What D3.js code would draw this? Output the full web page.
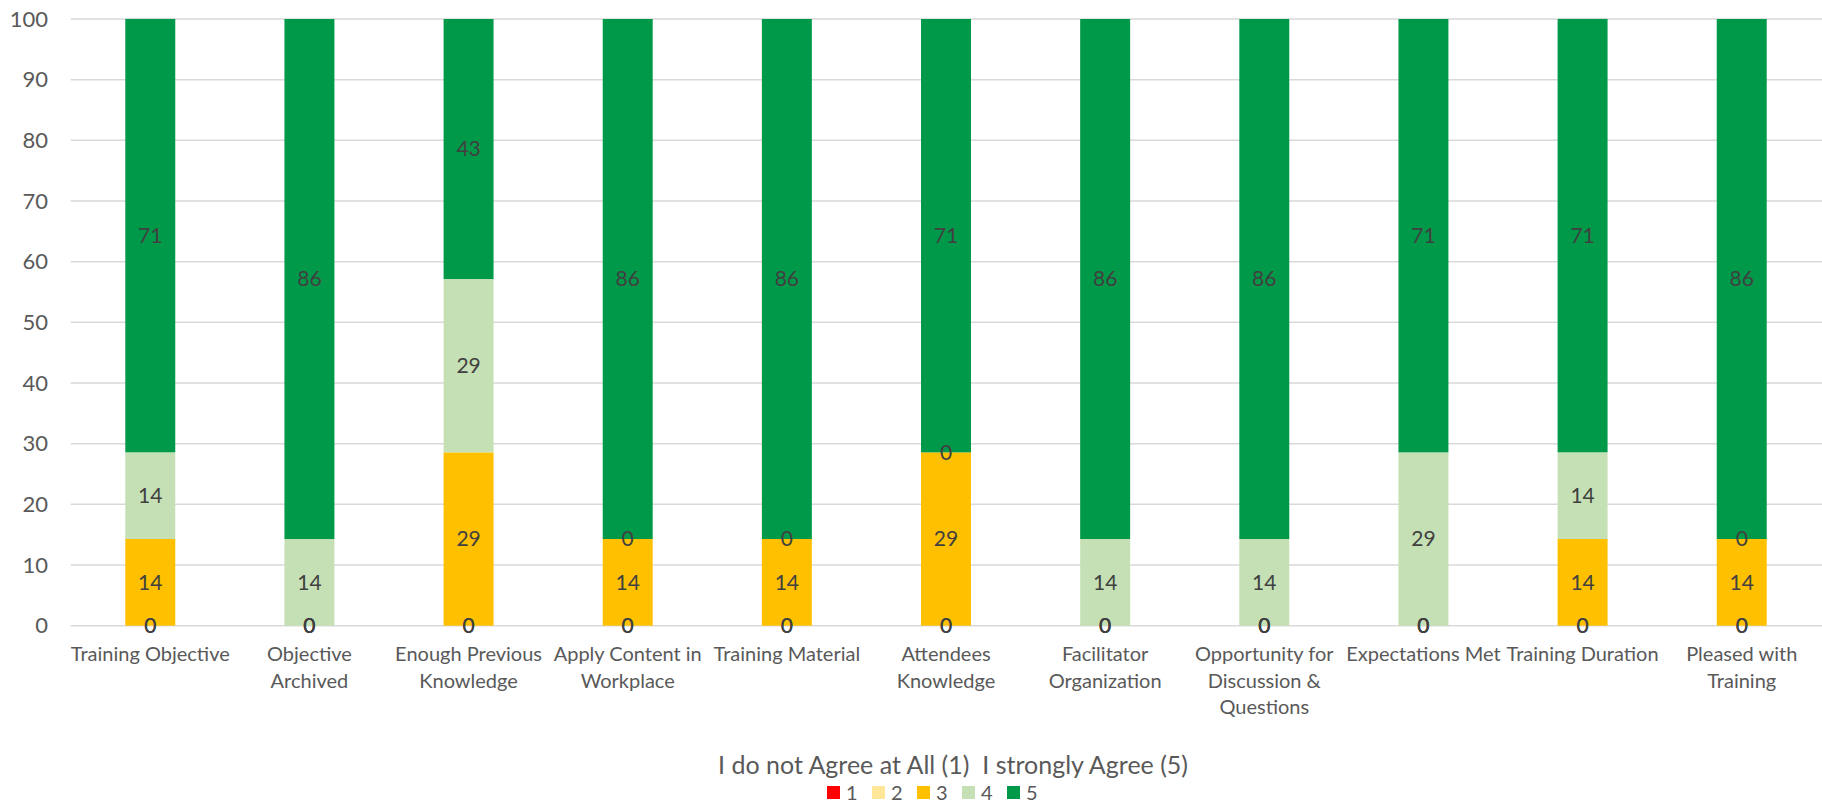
<!DOCTYPE html>
<html>
<head>
<meta charset="utf-8">
<script src="https://cdn.jsdelivr.net/npm/d3@7"></script>
<style>
  body { margin: 0; background: #fff; }
  svg { display: block; font-family: Lato, "Open Sans", sans-serif; }
</style>
</head>
<body>
<svg width="1822" height="806"></svg>
<script>
// categories (line breaks as in the original wrapped labels)
var categories = [
    "Training Objective",
    "Objective\nArchived",
    "Enough Previous\nKnowledge",
    "Apply Content in\nWorkplace",
    "Training Material",
    "Attendees\nKnowledge",
    "Facilitator\nOrganization",
    "Opportunity for\nDiscussion &\nQuestions",
    "Expectations Met",
    "Training Duration",
    "Pleased with\nTraining"
];

var seriesNames = ["1", "2", "3", "4", "5"];

// percentages for each rating (7 respondents)
var s1 = [0, 0, 0, 0, 0, 0, 0, 0, 0, 0, 0];
var s2 = [0, 0, 0, 0, 0, 0, 0, 0, 0, 0, 0];
var s3 = [14.29, 0, 28.57, 14.29, 14.29, 28.57, 0, 0, 0, 14.29, 14.29];
var s4 = [14.29, 14.29, 28.57, 0, 0, 0, 14.29, 14.29, 28.57, 14.29, 0];
var s5 = [71.43, 85.71, 42.86, 85.71, 85.71, 71.43, 85.71, 85.71, 71.43, 71.43, 85.71];

var yTicks = [0, 10, 20, 30, 40, 50, 60, 70, 80, 90, 100];

var colors = ["#ff0000", "#ffe699", "#ffc000", "#c5e0b4", "#00994a"];
var legendTitle = "I do not Agree at All (1)  I strongly Agree (5)";

d3.select(window).on('load', function() {

    var svg = d3.select('svg');
    var margin = {top: 19, right: 0, bottom: 180, left: 70.7};

    var x = d3.scaleBand()
        .domain(categories)
        .range([margin.left, 1821.3])
        .paddingInner(0.686)
        .paddingOuter(0.343);

    var y = d3.scaleLinear()
        .domain([0, 100])
        .range([625.7, margin.top]);

    // gridlines
    svg.append('g')
        .selectAll('line')
        .data(yTicks)
        .enter()
        .append('line')
        .attr('x1', margin.left)
        .attr('x2', 1822)
        .attr('y1', function(d) { return y(d); })
        .attr('y2', function(d) { return y(d); })
        .attr('stroke', '#d9d9d9')
        .attr('stroke-width', 1.5);

    // y axis labels
    var yAxis = svg.append('g')
        .attr('transform', 'translate(' + 48 + ',0)')
        .call(d3.axisLeft(y).tickValues(yTicks).tickSize(0).tickPadding(0));
    yAxis.select('.domain').remove();
    yAxis.selectAll('text')
        .attr('fill', '#595959')
        .style('font-family', 'Lato, sans-serif')
        .style('font-size', '22px');

    // stacked data
    var rows = categories.map(function(c, i) {
        return {cat: c, "1": s1[i], "2": s2[i], "3": s3[i], "4": s4[i], "5": s5[i]};
    });
    var stacked = d3.stack().keys(seriesNames)(rows);

    var layers = svg.append('g')
        .selectAll('g')
        .data(stacked)
        .enter()
        .append('g')
        .attr('fill', function(d, i) { return colors[i]; });

    layers.selectAll('rect')
        .data(function(d) { return d; })
        .enter()
        .append('rect')
        .attr('x', function(d) { return x(d.data.cat); })
        .attr('width', x.bandwidth())
        .attr('y', function(d) { return y(d[1]); })
        .attr('height', function(d) { return y(d[0]) - y(d[1]); });

    // data labels
    var labels = svg.append('g');
    stacked.forEach(function(layer) {
        labels.selectAll(null)
            .data(layer)
            .enter()
            .append('text')
            .attr('x', function(d) { return x(d.data.cat) + x.bandwidth() / 2; })
            .attr('y', function(d) { return y((d[0] + d[1]) / 2); })
            .attr('dy', '0.35em')
            .attr('text-anchor', 'middle')
            .attr('fill', '#404040')
            .style('font-size', '21px')
            .text(function(d) { return Math.round(d[1] - d[0]); });
    });

    // category labels
    var cats = svg.append('g')
        .selectAll('text')
        .data(categories)
        .enter()
        .append('text')
        .attr('text-anchor', 'middle')
        .attr('fill', '#595959')
        .style('font-size', '20px')
        .attr('transform', function(d) {
            return 'translate(' + (x(d) + x.bandwidth() / 2) + ',' + 661 + ')';
        });
    cats.selectAll('tspan')
        .data(function(d) { return d.split('\n'); })
        .enter()
        .append('tspan')
        .attr('x', 0)
        .attr('y', function(d, i) { return i * 26.5; })
        .text(function(d) { return d; });

    // legend
    svg.append('text')
        .attr('x', 718)
        .attr('y', 774)
        .attr('fill', '#595959')
        .style('font-size', '25px')
        .style('white-space', 'pre')
        .text(legendTitle);

    var legend = svg.append('g')
        .selectAll('g')
        .data(seriesNames)
        .enter()
        .append('g')
        .attr('transform', function(d, i) { return 'translate(' + (827 + i * 45) + ',786)'; });
    legend.append('rect')
        .attr('width', 13)
        .attr('height', 13)
        .attr('fill', function(d, i) { return colors[i]; });
    legend.append('text')
        .attr('x', 19)
        .attr('y', 7)
        .attr('dy', '0.36em')
        .attr('fill', '#595959')
        .style('font-size', '20px')
        .text(function(d) { return d; });
});
</script>
</body>
</html>
